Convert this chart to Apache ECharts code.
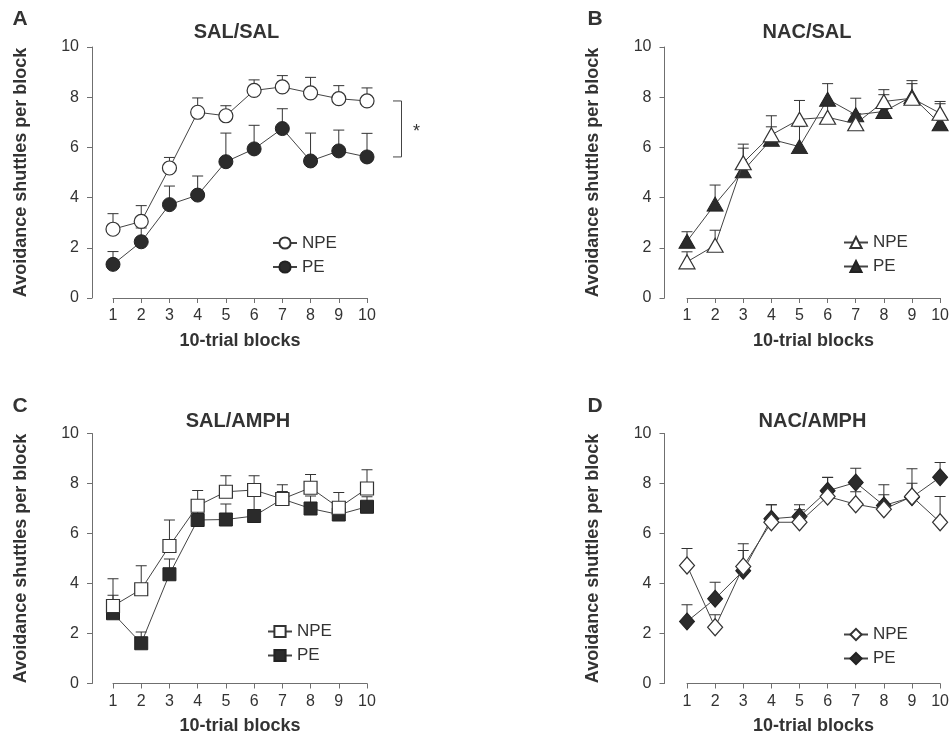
<!DOCTYPE html>
<html>
<head>
<meta charset="utf-8">
<script src="https://cdn.jsdelivr.net/npm/echarts@6/dist/echarts.min.js"></script>
<style>
html,body{margin:0;padding:0;background:#fff;}
#chart{width:952px;height:737px;}
</style>
</head>
<body>
<div id="chart"></div>
<script>
// ---- data ----
const blocks = [1, 2, 3, 4, 5, 6, 7, 8, 9, 10];
const xTicks = ['1','2','3','4','5','6','7','8','9','10'];
const yTicks = [0, 2, 4, 6, 8, 10];
const panelLetters = ['A', 'B', 'C', 'D'];
const panelTitles = ['SAL/SAL', 'NAC/SAL', 'SAL/AMPH', 'NAC/AMPH'];
const groupNames = ['NPE', 'PE'];

// A: SAL/SAL
const npeA    = [2.74, 3.05, 5.18, 7.40, 7.26, 8.27, 8.41, 8.17, 7.94, 7.85];
const npeAErr = [0.62, 0.63, 0.42, 0.57, 0.40, 0.42, 0.45, 0.62, 0.52, 0.52];
const peA     = [1.34, 2.24, 3.72, 4.10, 5.43, 5.94, 6.75, 5.46, 5.86, 5.62];
const peAErr  = [0.51, 0.55, 0.74, 0.76, 1.14, 0.94, 0.79, 1.11, 0.83, 0.94];
// B: NAC/SAL
const npeB    = [1.44, 2.10, 5.39, 6.50, 7.12, 7.20, 6.94, 7.83, 7.96, 7.36];
const npeBErr = [0.40, 0.60, 0.74, 0.76, 0.75, 0.50, 0.40, 0.47, 0.70, 0.47];
const peB     = [2.26, 3.74, 5.07, 6.32, 6.03, 7.92, 7.30, 7.43, 8.03, 6.94];
const peBErr  = [0.38, 0.76, 0.90, 0.50, 0.80, 0.62, 0.66, 0.67, 0.51, 0.80];
// C: SAL/AMPH
const npeC    = [3.10, 3.77, 5.50, 7.11, 7.67, 7.74, 7.38, 7.83, 7.03, 7.80];
const npeCErr = [1.09, 0.94, 1.04, 0.61, 0.64, 0.57, 0.57, 0.53, 0.61, 0.75];
const peC     = [2.81, 1.61, 4.37, 6.54, 6.56, 6.70, 7.38, 7.00, 6.76, 7.07];
const peCErr  = [0.72, 0.45, 0.61, 0.35, 0.62, 0.80, 0.30, 0.50, 0.30, 0.40];
// D: NAC/AMPH
const npeD    = [4.72, 2.25, 4.68, 6.45, 6.45, 7.48, 7.17, 6.97, 7.48, 6.45];
const npeDErr = [0.68, 0.50, 0.91, 0.70, 0.50, 0.77, 0.50, 0.58, 1.11, 1.03];
const peD     = [2.48, 3.39, 4.51, 6.59, 6.68, 7.71, 8.04, 7.12, 7.45, 8.25];
const peDErr  = [0.67, 0.66, 0.81, 0.56, 0.47, 0.53, 0.57, 0.83, 0.56, 0.59];

// significance annotation in panel A (between groups at last block)
const sigLabel = '*';

// ---- layout / style ----
const FONT = '"Liberation Sans", Arial, Helvetica, sans-serif';
const TXT = '#333';
const AX = '#6f6f6f';
const DARK = '#2b2b2b';

const panels = [
  {npe:npeA, npeErr:npeAErr, pe:peA, peErr:peAErr, symbol:'circle',   size:14,      grid:{left:113, top:47,    width:254, height:251}, yOff:21,   leg:{left:267, top:229.5}, letter:[20,9],   title:[236.5,22]},
  {npe:npeB, npeErr:npeBErr, pe:peB, peErr:peBErr, symbol:'triangle', size:[16,14], grid:{left:687, top:47,    width:255, height:251}, yOff:22.5, leg:{left:838, top:229},   letter:[595,9],  title:[807,22]},
  {npe:npeC, npeErr:npeCErr, pe:peC, peErr:peCErr, symbol:'rect',     size:13,      grid:{left:113, top:433.5, width:254, height:250}, yOff:21,   leg:{left:262, top:618},   letter:[20,396], title:[238,411]},
  {npe:npeD, npeErr:npeDErr, pe:peD, peErr:peDErr, symbol:'diamond',  size:[15,17], grid:{left:687, top:433.5, width:255, height:250}, yOff:22.5, leg:{left:838, top:621},   letter:[595,396], title:[812.5,411]}
];

function errRender(params, api) {
  const x = api.value(0), m = api.value(1), e = api.value(2);
  const p0 = api.coord([x, m]);
  const p1 = api.coord([x, m + e]);
  const st = {stroke: '#333', lineWidth: 1};
  return {type: 'group', children: [
    {type: 'line', shape: {x1: p0[0], y1: p0[1], x2: p1[0], y2: p1[1]}, style: st},
    {type: 'line', shape: {x1: p1[0] - 5.5, y1: p1[1], x2: p1[0] + 5.5, y2: p1[1]}, style: st}
  ]};
}

function bracketRender(params, api) {
  const x = api.value(0);
  const pa = api.coord([x, api.value(1)]);
  const pb = api.coord([x, api.value(2)]);
  const xl = pa[0] + 26, xr = pa[0] + 34.5;
  const st = {stroke: '#444', lineWidth: 1, fill: null};
  return {type: 'group', children: [
    {type: 'polyline', shape: {points: [[xl, pa[1]], [xr, pa[1]], [xr, pb[1]], [xl, pb[1]]]}, style: st},
    {type: 'text', style: {text: sigLabel, x: xr + 15, y: (pa[1] + pb[1]) / 2 + 3, align: 'center', verticalAlign: 'middle', fill: TXT, font: '18px ' + FONT}}
  ]};
}

const option = {
  animation: false,
  backgroundColor: '#fff',
  textStyle: {fontFamily: FONT},
  title: [],
  grid: [],
  xAxis: [],
  yAxis: [],
  legend: [],
  series: []
};

panels.forEach((p, i) => {
  const key = panelLetters[i];
  option.grid.push(Object.assign({containLabel: false}, p.grid));
  option.title.push({text: key, left: p.letter[0], top: p.letter[1], textAlign: 'center', padding: 0,
    textStyle: {fontSize: 21, fontWeight: 'bold', color: TXT, fontFamily: FONT}});
  option.title.push({text: panelTitles[i], left: p.title[0], top: p.title[1], textAlign: 'center', padding: 0,
    textStyle: {fontSize: 20, fontWeight: 'bold', color: TXT, fontFamily: FONT}});
  option.xAxis.push({
    type: 'value', gridIndex: i, min: blocks[0], max: blocks[blocks.length - 1], interval: 1,
    name: '10-trial blocks', nameLocation: 'middle', nameGap: 34,
    nameTextStyle: {fontSize: 18, fontWeight: 'bold', color: TXT, fontFamily: FONT},
    axisLine: {show: true, lineStyle: {color: AX, width: 1}},
    axisTick: {show: true, length: 5, lineStyle: {color: AX}},
    axisLabel: {fontSize: 16, color: TXT, margin: 10, fontFamily: FONT,
      formatter: v => xTicks[blocks.indexOf(v)] || ''},
    splitLine: {show: false}
  });
  option.yAxis.push({
    type: 'value', gridIndex: i, min: yTicks[0], max: yTicks[yTicks.length - 1], interval: 2,
    offset: p.yOff,
    name: 'Avoidance shuttles per block', nameLocation: 'middle', nameGap: 62,
    nameTextStyle: {fontSize: 18, fontWeight: 'bold', color: TXT, fontFamily: FONT},
    axisLine: {show: true, lineStyle: {color: AX, width: 1}},
    axisTick: {show: true, length: 5, lineStyle: {color: AX}},
    axisLabel: {fontSize: 16, color: TXT, margin: 13, fontFamily: FONT},
    splitLine: {show: false}
  });
  option.legend.push({
    data: [key + '|' + groupNames[0], key + '|' + groupNames[1]],
    orient: 'vertical', left: p.leg.left, top: p.leg.top,
    itemWidth: 24, itemHeight: 14, itemGap: 7,
    formatter: n => n.split('|')[1],
    textStyle: {fontSize: 17, color: TXT, fontFamily: FONT},
    selectedMode: false
  });
  // error bars (under markers)
  [[p.pe, p.peErr], [p.npe, p.npeErr]].forEach((pair, k) => {
    option.series.push({
      type: 'custom', name: key + '-err' + k, xAxisIndex: i, yAxisIndex: i, z: 1, clip: false,
      renderItem: errRender, encode: {x: 0, y: 1},
      data: blocks.map((b, j) => [b, pair[0][j], pair[1][j]]),
      silent: true
    });
  });
  // PE first, NPE on top
  option.series.push({
    type: 'line', name: key + '|' + groupNames[1], xAxisIndex: i, yAxisIndex: i, z: 2, clip: false,
    data: blocks.map((b, j) => [b, p.pe[j]]),
    symbol: p.symbol, symbolSize: p.size, showAllSymbol: true,
    lineStyle: {color: '#444', width: 1},
    itemStyle: {color: DARK, borderColor: '#222', borderWidth: 1}
  });
  option.series.push({
    type: 'line', name: key + '|' + groupNames[0], xAxisIndex: i, yAxisIndex: i, z: 3, clip: false,
    data: blocks.map((b, j) => [b, p.npe[j]]),
    symbol: p.symbol, symbolSize: p.size, showAllSymbol: true,
    lineStyle: {color: '#444', width: 1},
    itemStyle: {color: '#fff', borderColor: '#333', borderWidth: 1.2}
  });
  if (i === 0) {
    option.series.push({
      type: 'custom', name: 'sig', xAxisIndex: 0, yAxisIndex: 0, z: 4, clip: false, silent: true,
      renderItem: bracketRender, encode: {x: 0, y: 1},
      data: [[blocks[blocks.length - 1], npeA[npeA.length - 1], peA[peA.length - 1]]]
    });
  }
});

const chart = echarts.init(document.getElementById('chart'), null, {renderer: 'canvas'});
chart.setOption(option);
</script>
</body>
</html>
